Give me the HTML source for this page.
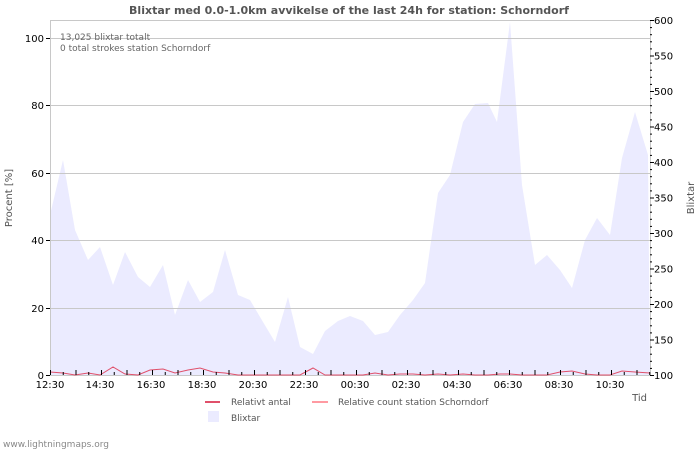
<!DOCTYPE html>
<html><head><meta charset="utf-8"><style>
body{margin:0;background:#fff;}
text{font-family:"DejaVu Sans","Liberation Sans",sans-serif;}
</style></head><body>
<svg width="700" height="450" xmlns="http://www.w3.org/2000/svg">
<rect width="700" height="450" fill="#fff"/>
<text x="349" y="14" text-anchor="middle" font-size="11" font-weight="bold" fill="#555">Blixtar med 0.0-1.0km avvikelse of the last 24h for station: Schorndorf</text>
<polygon fill="#ebebff" points="50,375 50,215 63,160 75,230 88,260 100,247 113,285 125,252 138,277 150,287 163,265 175,315 188,280 200,302 213,292 225,250 238,295 250,300 263,322 275,342 288,297 300,347 313,354 325,331 338,321 350,316 363,321 375,335 388,332 400,315 413,300 425,283 438,193 450,175 463,122 475,104 488,103 497,122 510,22 522,185 535,265 547,255 560,270 572,288 585,240 597,218 610,235 622,158 635,112 648,155 650,375"/>
<g stroke="#c8c8c8" stroke-width="1">
<line x1="50" y1="38.5" x2="650" y2="38.5"/>
<line x1="50" y1="105.5" x2="650" y2="105.5"/>
<line x1="50" y1="173.5" x2="650" y2="173.5"/>
<line x1="50" y1="240.5" x2="650" y2="240.5"/>
<line x1="50" y1="308.5" x2="650" y2="308.5"/>
</g>
<rect x="50.5" y="20.5" width="600" height="355" fill="none" stroke="#c8c8c8"/>
<g stroke="#000" stroke-width="1">
<line x1="46" y1="38.5" x2="50" y2="38.5"/><line x1="46" y1="105.5" x2="50" y2="105.5"/><line x1="46" y1="173.5" x2="50" y2="173.5"/><line x1="46" y1="240.5" x2="50" y2="240.5"/><line x1="46" y1="308.5" x2="50" y2="308.5"/><line x1="46" y1="375.5" x2="50" y2="375.5"/>
</g>
<g font-size="10" fill="#000" text-anchor="end">
<text x="44" y="42">100</text><text x="44" y="109">80</text><text x="44" y="177">60</text><text x="44" y="244">40</text><text x="44" y="312">20</text><text x="44" y="379">0</text>
</g>
<g id="rt" stroke="#000"></g>
<g font-size="10" fill="#000">
<text x="654" y="24">600</text><text x="654" y="59.5">550</text><text x="654" y="95">500</text><text x="654" y="130.5">450</text><text x="654" y="166">400</text><text x="654" y="201.5">350</text><text x="654" y="237">300</text><text x="654" y="272.5">250</text><text x="654" y="308">200</text><text x="654" y="343.5">150</text><text x="654" y="379">100</text>
</g>
<g font-size="10" fill="#000" text-anchor="middle">
<text x="50" y="388">12:30</text><text x="100" y="388">14:30</text><text x="151" y="388">16:30</text><text x="202" y="388">18:30</text><text x="253" y="388">20:30</text><text x="304" y="388">22:30</text><text x="355" y="388">00:30</text><text x="406" y="388">02:30</text><text x="457" y="388">04:30</text><text x="508" y="388">06:30</text><text x="559" y="388">08:30</text><text x="610" y="388">10:30</text>
</g>
<polyline fill="none" stroke="#e0506a" stroke-width="1" points="50,372 63,373 75,375 88,373 100,375 113,367 125,374 138,375 150,370 163,369 175,373 188,370 200,368 213,372 225,373 238,375 250,375 263,375 275,375 288,375 300,375 313,368 325,375 338,375 350,375 363,375 375,373 388,375 400,374 413,374 425,375 438,374 450,375 463,374 475,375 488,375 500,374 510,374 522,375 535,375 547,375 560,372 572,371 585,374 597,375 610,375 622,371 635,372 650,373"/>
<text x="60" y="40" font-size="9" fill="#666">13,025 blixtar totalt</text>
<text x="60" y="51" font-size="9" fill="#666">0 total strokes station Schorndorf</text>
<text x="12" y="198" font-size="10" fill="#555" text-anchor="middle" transform="rotate(-90 12 198)">Procent   [%]</text>
<text x="694" y="198" font-size="10" fill="#555" text-anchor="middle" transform="rotate(-90 694 198)">Blixtar</text>
<text x="647" y="401" font-size="10" fill="#555" text-anchor="end">Tid</text>
<line x1="205" y1="402" x2="220" y2="402" stroke="#e0506a" stroke-width="2"/>
<text x="231" y="405" font-size="9" fill="#555">Relativt antal</text>
<line x1="312" y1="402" x2="328" y2="402" stroke="#ff9aa2" stroke-width="2"/>
<text x="338" y="405" font-size="9" fill="#555">Relative count station Schorndorf</text>
<rect x="208" y="411" width="11" height="11" fill="#ebebff"/>
<text x="231" y="421" font-size="9" fill="#555">Blixtar</text>
<text x="3" y="447" font-size="9" fill="#888">www.lightningmaps.org</text>
</svg>
<script>
var g=document.getElementById('rt'),s='';
for(var i=0;i<=50;i++){var y=20.5+i*7.1;var w=(i%5==0)?4:2;s+='<line x1="650" y1="'+y+'" x2="'+(650+w)+'" y2="'+y+'"/>';}
g.innerHTML=s;
var b=document.querySelector('svg'),t='';
for(var j=0;j<48;j++){var x=50.5+j*12.75;var h=(j%2==0)?5:3;t+='<line x1="'+x+'" y1="'+(375-h)+'" x2="'+x+'" y2="375" stroke="#000"/>';}
b.insertAdjacentHTML('beforeend',t);
</script>
</body></html>
